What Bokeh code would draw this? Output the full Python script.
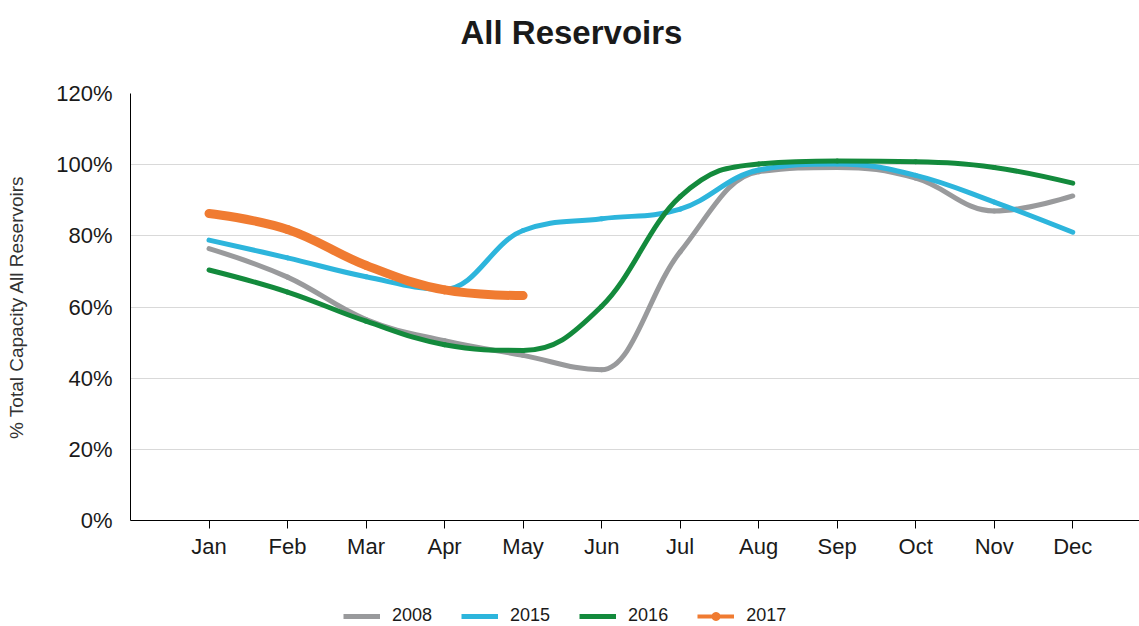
from bokeh.plotting import figure
from bokeh.layouts import column
from bokeh.models import Range1d, FixedTicker, Legend, LegendItem, ColumnDataSource
from bokeh.embed import file_html
from bokeh.resources import INLINE

months = ["Jan", "Feb", "Mar", "Apr", "May", "Jun", "Jul", "Aug", "Sep", "Oct", "Nov", "Dec"]
y2008 = [76.4, 68.4, 56.5, 50.5, 46.4, 42.4, 75.5, 98.0, 99.2, 96.2, 87.0, 91.2]
y2015 = [78.8, 73.8, 68.5, 65.0, 81.5, 84.8, 87.5, 98.5, 100.2, 97.0, 89.5, 81.0]
y2016 = [70.4, 64.2, 56.0, 49.4, 47.8, 60.2, 91.0, 100.2, 101.0, 100.8, 99.2, 94.8]
y2017 = [86.3, 81.8, 71.7, 64.8, 63.2]

FONT = "Liberation Sans"
TITLE_TOP = 60
TITLE_FRAME = 8
LEG_H = 40
MAIN_TOP = 93 - TITLE_TOP - TITLE_FRAME

# ---- title strip ----
tf = figure(frame_width=1009, frame_height=TITLE_FRAME, output_backend="svg", toolbar_location=None,
            x_axis_type=None, y_axis_type=None, x_range=Range1d(0, 1), y_range=Range1d(0, 1),
            min_border_left=130, min_border_right=0, min_border_top=TITLE_TOP, min_border_bottom=0)
tf.outline_line_color = None
tf.xgrid.grid_line_color = None
tf.ygrid.grid_line_color = None
tf.title.text = "All Reservoirs"
tf.title.align = "left"
tf.title.offset = 330
tf.title.vertical_align = "bottom"
tf.title.standoff = 20
tf.title.text_font = FONT
tf.title.text_font_size = "33px"
tf.title.text_font_style = "bold"
tf.title.text_color = "#1a1a1a"

# ---- main chart ----
p = figure(frame_width=1009, frame_height=427, output_backend="svg", toolbar_location=None,
           x_range=Range1d(0, 12.85), y_range=Range1d(0, 120),
           min_border_left=130, min_border_right=0, min_border_top=MAIN_TOP,
           min_border_bottom=626 - 93 - 427 - LEG_H)
p.outline_line_color = None
p.background_fill_color = "white"
p.border_fill_color = "white"

p.xaxis.ticker = FixedTicker(ticks=list(range(1, 13)))
p.xaxis.major_label_overrides = {i + 1: m for i, m in enumerate(months)}
p.xaxis.major_tick_out = 8
p.xaxis.major_tick_in = 0
p.xaxis.minor_tick_line_color = None
p.xaxis.axis_line_color = "black"
p.xaxis.major_tick_line_color = "black"
p.xaxis.major_label_text_font = FONT
p.xaxis.major_label_text_font_size = "22px"
p.xaxis.major_label_text_color = "#1a1a1a"
p.xaxis.major_label_standoff = 5

p.yaxis.ticker = FixedTicker(ticks=[0, 20, 40, 60, 80, 100, 120])
p.yaxis.major_label_overrides = {v: f"{v}%" for v in [0, 20, 40, 60, 80, 100, 120]}
p.yaxis.major_tick_out = 0
p.yaxis.major_tick_in = 0
p.yaxis.minor_tick_line_color = None
p.yaxis.axis_line_color = "black"
p.yaxis.major_label_text_font = FONT
p.yaxis.major_label_text_font_size = "22px"
p.yaxis.major_label_text_color = "#1a1a1a"
p.yaxis.major_label_standoff = 18
p.yaxis.axis_label = "% Total Capacity All Reservoirs"
p.yaxis.axis_label_text_font = FONT
p.yaxis.axis_label_text_font_size = "19px"
p.yaxis.axis_label_text_font_style = "normal"
p.yaxis.axis_label_text_color = "#333333"
p.yaxis.axis_label_standoff = 26

p.xgrid.grid_line_color = None
p.ygrid.grid_line_color = "#d9d9d9"
p.ygrid.grid_line_width = 1


def spline_source(vals):
    """Cubic Bezier segments through the data points (smoothing 1.5, no false extremes)."""
    xs = list(range(1, len(vals) + 1))
    n = len(vals)
    s = 1.5
    lcx, lcy, rcx, rcy = list(xs), list(vals), list(xs), list(vals)
    for i in range(1, n - 1):
        x, y = xs[i], vals[i]
        lx, ly = xs[i - 1], vals[i - 1]
        nx, ny = xs[i + 1], vals[i + 1]
        lX = (s * x + lx) / (s + 1); lY = (s * y + ly) / (s + 1)
        rX = (s * x + nx) / (s + 1); rY = (s * y + ny) / (s + 1)
        corr = (rY - lY) * (rX - x) / (rX - lX) + y - rY
        lY += corr; rY += corr
        if lY > ly and lY > y:
            lY = max(ly, y); rY = 2 * y - lY
        elif lY < ly and lY < y:
            lY = min(ly, y); rY = 2 * y - lY
        if rY > ny and rY > y:
            rY = max(ny, y); lY = 2 * y - rY
        elif rY < ny and rY < y:
            rY = min(ny, y); lY = 2 * y - rY
        lcx[i], lcy[i], rcx[i], rcy[i] = lX, lY, rX, rY
    d = dict(x0=xs[:-1], y0=vals[:-1], x1=xs[1:], y1=vals[1:],
             cx0=rcx[:-1], cy0=rcy[:-1], cx1=lcx[1:], cy1=lcy[1:])
    return ColumnDataSource(d)


series = [
    ("2008", y2008, "#999a9c", 5),
    ("2015", y2015, "#2db5dc", 5),
    ("2016", y2016, "#138a3c", 5),
    ("2017", y2017, "#f07b31", 9),
]

bz = dict(x0="x0", y0="y0", x1="x1", y1="y1", cx0="cx0", cy0="cy0", cx1="cx1", cy1="cy1")
for name, vals, color, w in series:
    p.bezier(source=spline_source(vals), line_color=color, line_width=w, line_cap="round", **bz)

# ---- legend strip below the chart (its renderers lie outside its visible range) ----
lf = figure(frame_width=1009, frame_height=LEG_H, output_backend="svg", toolbar_location=None,
            x_axis_type=None, y_axis_type=None, x_range=Range1d(-2, -1), y_range=Range1d(-2, -1),
            min_border_left=130, min_border_right=0, min_border_top=0, min_border_bottom=0)
lf.outline_line_color = None
lf.xgrid.grid_line_color = None
lf.ygrid.grid_line_color = None
items = []
for name, vals, color, w in series:
    xs = list(range(1, len(vals) + 1))
    if name == "2017":
        r1 = lf.line(xs, vals, line_color=color, line_width=4)
        r2 = lf.scatter(xs, vals, size=8, marker="circle", fill_color=color, line_color=color)
        items.append(LegendItem(label=name, renderers=[r1, r2]))
    else:
        r = lf.line(xs, vals, line_color=color, line_width=w)
        items.append(LegendItem(label=name, renderers=[r]))

legend = Legend(items=items, orientation="horizontal", location=(213, 0),
                label_text_font=FONT, label_text_font_size="18px", label_text_color="#1a1a1a",
                glyph_width=37, glyph_height=20, label_height=20, spacing=29, label_standoff=12,
                border_line_color=None, background_fill_alpha=0, margin=0, padding=0)
lf.add_layout(legend, "center")

open("out.html", "w").write(file_html(column(tf, p, lf, spacing=0), INLINE))
